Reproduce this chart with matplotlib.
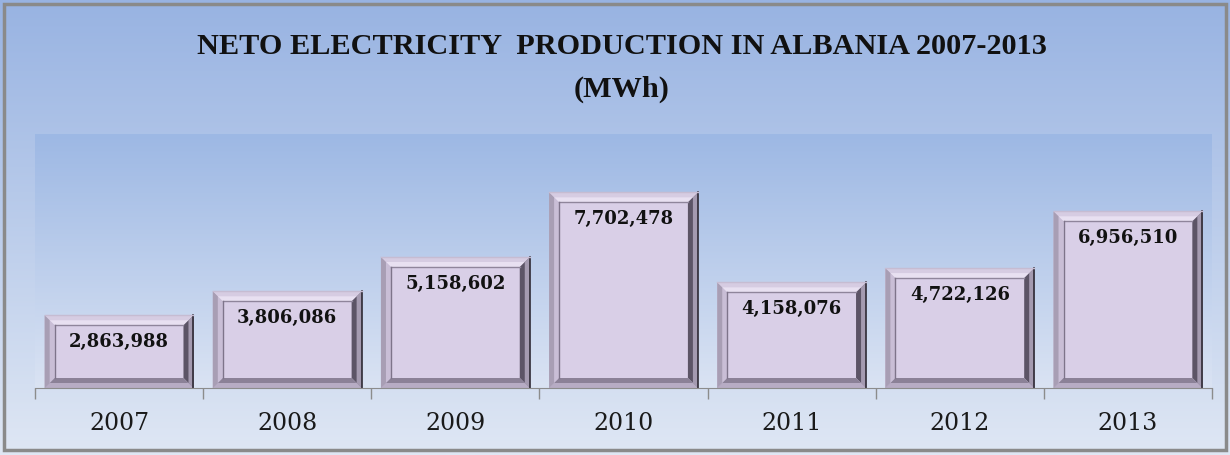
import numpy as np
import matplotlib.pyplot as plt
from matplotlib.patches import Polygon, Rectangle
from matplotlib.colors import LinearSegmentedColormap

years = ['2007', '2008', '2009', '2010', '2011', '2012', '2013']
production = [2863988, 3806086, 5158602, 7702478, 4158076, 4722126, 6956510]
title = 'NETO ELECTRICITY  PRODUCTION IN ALBANIA 2007-2013\n(MWh)'

W, H = 1230, 455
fig = plt.figure(figsize=(W / 100, H / 100), dpi=100)

# figure background gradient
bg = fig.add_axes([0, 0, 1, 1], zorder=-10)
bg.axis('off')
cm_fig = LinearSegmentedColormap.from_list('figbg', ['#98b3e2', '#dfe7f4'])
bg.imshow(np.linspace(0, 1, 256).reshape(-1, 1), cmap=cm_fig, aspect='auto',
          extent=[0, 1, 0, 1], origin='upper')
bg.set_xlim(0, 1)
bg.set_ylim(0, 1)
bg.add_patch(Rectangle((4 / W, 5 / H), 1222 / W, 446 / H, fill=False,
                       edgecolor='#8a8a8a', lw=2.5))

# plot area
left, right, top, bottom = 35, 1212, 134, 388
ax = fig.add_axes([left / W, (H - bottom) / H, (right - left) / W, (bottom - top) / H])
ax.set_xlim(-0.5, len(years) - 0.5)
ax.set_ylim(0, 10.0)
cm_ax = LinearSegmentedColormap.from_list('axbg', ['#9db8e4', '#dae3f3'])
ax.imshow(np.linspace(0, 1, 256).reshape(-1, 1), cmap=cm_ax, aspect='auto',
          extent=[-0.5, len(years) - 0.5, 0, 10.0], origin='upper', zorder=0)

vals = np.array(production) / 1e6
x = np.arange(len(years))
bw = 0.885
px_x = (right - left) / len(years)
px_y = (bottom - top) / 10.0


def bevel(x0, x1, v, b_px, colors, z):
    bx, by = b_px / px_x, b_px / px_y
    faces = [
        [(x0, v), (x1, v), (x1 - bx, v - by), (x0 + bx, v - by)],   # top
        [(x0, 0), (x0, v), (x0 + bx, v - by), (x0 + bx, by)],       # left
        [(x1, 0), (x1, v), (x1 - bx, v - by), (x1 - bx, by)],       # right
        [(x0, 0), (x1, 0), (x1 - bx, by), (x0 + bx, by)],           # bottom
    ]
    for pts, c in zip(faces, colors):
        ax.add_patch(Polygon(pts, closed=True, facecolor=c, edgecolor='none', zorder=z))
    return bx, by


for xi, v in zip(x, vals):
    x0, x1 = xi - bw / 2, xi + bw / 2
    ax.add_patch(Rectangle((x0, 0), bw, v, facecolor='#d9cfe7', edgecolor='none', zorder=2))
    # outer and inner bevel strips for a soft gradient
    bx, by = bevel(x0, x1, v, 10, ['#e8e0f1', '#c9bed6', '#5c5466', '#8b8197'], 3)
    bevel(x0, x1, v, 5, ['#d6cce2', '#a89eb4', '#a49ab0', '#b7acc4'], 4)
    # inner edge shading
    ax.plot([x0 + bx, x1 - bx], [v - by, v - by], color='#8f859b', lw=1, zorder=5)
    ax.plot([x0 + bx, x0 + bx], [by, v - by], color='#7e748a', lw=1, zorder=5)
    ax.plot([x1, x1], [0, v], color='#2f2a35', lw=1.2, zorder=5)
    ax.plot([x0, x1], [v, v], color='#c6bcd2', lw=1, zorder=5)
    ax.annotate(f'{int(round(v * 1e6)):,}', (xi, v), xytext=(0, -27),
                textcoords='offset pixels', ha='center', va='center',
                fontsize=13, fontweight='bold', family='DejaVu Serif',
                color='#111111', zorder=6)

for s in ['top', 'left', 'right']:
    ax.spines[s].set_visible(False)
ax.spines['bottom'].set_color('#8c8c8c')
ax.spines['bottom'].set_zorder(7)
ax.set_yticks([])
ax.set_xticks(x)
ax.set_xticklabels(years, family='DejaVu Serif', fontsize=17, color='#1a1a1a')
ax.tick_params(axis='x', which='major', length=0, pad=17)
ax.set_xticks(np.arange(-0.5, len(years)), minor=True)
ax.tick_params(axis='x', which='minor', length=8, color='#8c8c8c', width=1)

fig.text(622 / W, 1 - 68 / H, title, ha='center', va='center', fontsize=21.8,
         fontweight='bold', family='Liberation Serif', color='#111111',
         linespacing=1.75)

fig.savefig('out.png', dpi=100)
